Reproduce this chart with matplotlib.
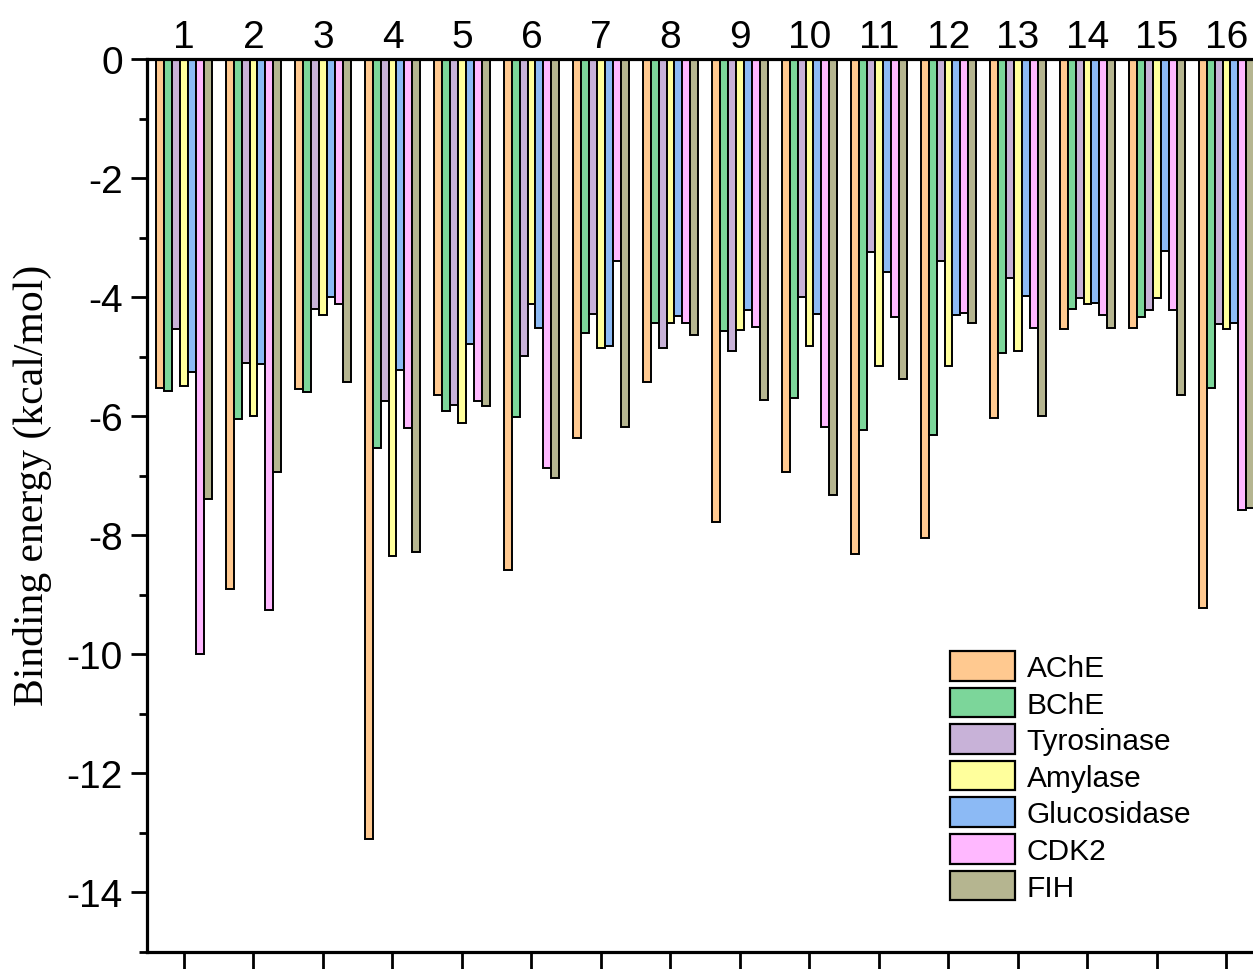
import matplotlib
matplotlib.use("Agg")
import matplotlib.pyplot as plt
import numpy as np

groups = [str(i) for i in range(1, 17)]
series = ["AChE", "BChE", "Tyrosinase", "Amylase", "Glucosidase", "CDK2", "FIH"]
colors = ["#FFC990", "#7CD69A", "#C8B2D8", "#FFFF9C", "#8CBAF5", "#FFB8FF", "#B5B590"]

AChE        = [-5.53, -8.91, -5.55, -13.10, -5.65, -8.59, -6.37, -5.43, -7.77, -6.93, -8.32, -8.05, -6.03, -4.54, -4.52, -9.23]
BChE        = [-5.57, -6.05, -5.60, -6.54, -5.92, -6.02, -4.61, -4.44, -4.57, -5.70, -6.24, -6.31, -4.94, -4.20, -4.33, -5.53]
Tyrosinase  = [-4.54, -5.10, -4.20, -5.75, -5.82, -4.99, -4.29, -4.85, -4.91, -4.00, -3.25, -3.40, -3.68, -4.01, -4.22, -4.45]
Amylase     = [-5.50, -6.00, -4.30, -8.34, -6.11, -4.12, -4.86, -4.43, -4.55, -4.82, -5.15, -5.16, -4.91, -4.11, -4.01, -4.53]
Glucosidase = [-5.26, -5.12, -3.99, -5.22, -4.78, -4.52, -4.82, -4.32, -4.22, -4.29, -3.57, -4.30, -3.98, -4.10, -3.23, -4.43]
CDK2        = [-10.00, -9.25, -4.11, -6.20, -5.75, -6.87, -3.39, -4.43, -4.51, -6.18, -4.33, -4.27, -4.52, -4.30, -4.22, -7.57]
FIH         = [-7.39, -6.93, -5.42, -8.28, -5.83, -7.04, -6.18, -4.63, -5.72, -7.32, -5.38, -4.43, -5.99, -4.52, -5.65, -7.54]

values = [AChE, BChE, Tyrosinase, Amylase, Glucosidase, CDK2, FIH]

W, H = 1253, 970
fig = plt.figure(figsize=(W / 100, H / 100), dpi=100)
ax = fig.add_axes([147 / W, 1 - 953 / H, (1253 - 147) / W, (953 - 60) / H])

x = np.arange(1, len(groups) + 1)
n = len(series)
bw = 0.8 / n
for j, (name, vals, c) in enumerate(zip(series, values, colors)):
    ax.bar(x + (j - (n - 1) / 2) * bw, vals, width=bw, color=c,
           edgecolor="black", linewidth=1.4, label=name, zorder=2)

sans = ["Liberation Sans", "DejaVu Sans"]
ax.set_ylim(-15, 0)
ax.set_xlim(0.468, 0.468 + (1253 - 147) / 69.5)
ax.set_yticks(np.arange(-14, 1, 2))
ax.set_yticks(np.arange(-15, 0, 1), minor=True)
ax.set_yticklabels([str(int(v)) for v in np.arange(-14, 1, 2)], fontsize=28, family=sans)

ax.set_xticks(x)
ax.set_xticklabels(groups, fontsize=28, family=sans)
ax.tick_params(axis="x", which="major", bottom=True, top=False,
               labelbottom=False, labeltop=True, direction="out",
               length=12, width=2.0, pad=-9)
ax.tick_params(axis="y", which="major", direction="out", length=11.5, width=2.0, pad=6)
ax.tick_params(axis="y", which="minor", direction="out", length=6, width=2.0)

for s in ["left", "top", "bottom"]:
    ax.spines[s].set_linewidth(2.3)
ax.spines["right"].set_visible(False)

ax.set_ylabel("Binding energy (kcal/mol)", fontsize=30,
              family=["Liberation Serif", "DejaVu Serif"])
ax.yaxis.set_label_coords(-(147 - 52) / (1253 - 147), 0.5 + (893 / 2 - (485 - 60)) / 893)

leg = fig.legend(loc="upper left", bbox_to_anchor=(950 / W, 1 - 652 / H),
                 frameon=False, handlelength=2.17, handleheight=1.15,
                 labelspacing=0.19, handletextpad=0.4, borderpad=0, borderaxespad=0,
                 prop={"family": sans, "size": 21.5})
for p in leg.get_patches():
    p.set_linewidth(1.6)

fig.savefig("out.png", dpi=100)
